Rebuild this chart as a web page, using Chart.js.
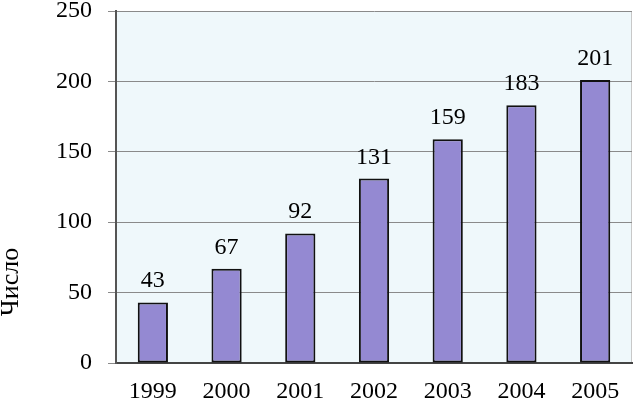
<!DOCTYPE html>
<html>
<head>
<meta charset="utf-8">
<script src="https://cdn.jsdelivr.net/npm/chart.js@4/dist/chart.umd.min.js"></script>
<style>
  html, body { margin: 0; padding: 0; background: #fff; }
  #wrap { width: 636px; height: 399px; }
</style>
</head>
<body>
<div id="wrap"><canvas id="chart"></canvas></div>
<script>
const years = ['1999', '2000', '2001', '2002', '2003', '2004', '2005'];
const counts = [43, 67, 92, 131, 159, 183, 201];
const yTicks = [0, 50, 100, 150, 200, 250];
const yTitle = 'Число';

const FONT = "'Liberation Serif', 'Times New Roman', Times, serif";

// фон области графика
const plotBg = {
    id: 'plotBg',
    beforeDraw(chart) {
        const { ctx, chartArea: a } = chart;
        ctx.save();
        ctx.fillStyle = '#eff8fb';
        ctx.fillRect(a.left, a.top, a.right - a.left, a.bottom - a.top);
        ctx.strokeStyle = '#c8c8c8';
        ctx.lineWidth = 1;
        ctx.beginPath();
        ctx.moveTo(a.right - 0.5, a.top);
        ctx.lineTo(a.right - 0.5, a.bottom);
        ctx.stroke();
        ctx.restore();
    }
};

// подписи значений над столбцами + подпись оси
const valueLabels = {
    id: 'valueLabels',
    afterDatasetsDraw(chart) {
        const { ctx, chartArea: a } = chart;
        const meta = chart.getDatasetMeta(0);
        ctx.save();
        ctx.fillStyle = '#000';
        ctx.font = '24px ' + FONT;
        ctx.textAlign = 'center';
        ctx.textBaseline = 'alphabetic';
        meta.data.forEach((bar, i) => {
            ctx.fillText(String(counts[i]), bar.x, bar.y - 15);
        });

        ctx.font = '26px ' + FONT;
        ctx.translate(18, a.bottom - 81);
        ctx.rotate(-Math.PI / 2);
        ctx.fillText(yTitle, 0, 0);
        ctx.restore();
    }
};

new Chart(document.getElementById('chart'), {
    type: 'bar',
    data: {
        labels: years,
        datasets: [{
            data: counts,
            backgroundColor: '#9489d2',
            borderColor: '#111',
            borderWidth: 2,
            borderSkipped: false,
            barPercentage: 0.41,
            categoryPercentage: 1
        }]
    },
    options: {
        responsive: true,
        maintainAspectRatio: false,
        animation: false,
        layout: { padding: { left: 0, top: 11, right: 4, bottom: 0 } },
        plugins: {
            legend: { display: false },
            tooltip: { enabled: false }
        },
        scales: {
            x: {
                grid: { display: false },
                border: { color: '#444', width: 2 },
                ticks: { color: '#000', font: { family: FONT, size: 24 }, padding: 6, maxRotation: 0 },
                afterFit(scale) {
                    scale.height = 36;
                    scale.paddingLeft = 0;
                    scale.paddingRight = 0;
                }
            },
            y: {
                min: 0,
                max: 250,
                afterBuildTicks(scale) { scale.ticks = yTicks.map(v => ({ value: v })); },
                grid: { color: '#8a8a8a', lineWidth: 1, tickLength: 8 },
                border: { color: '#555', width: 2 },
                ticks: { color: '#000', font: { family: FONT, size: 24 }, padding: 16 },
                afterFit(scale) {
                    scale.width = 116;
                    scale.paddingTop = 0;
                    scale.paddingBottom = 0;
                }
            }
        }
    },
    plugins: [plotBg, valueLabels]
});
</script>
</body>
</html>
